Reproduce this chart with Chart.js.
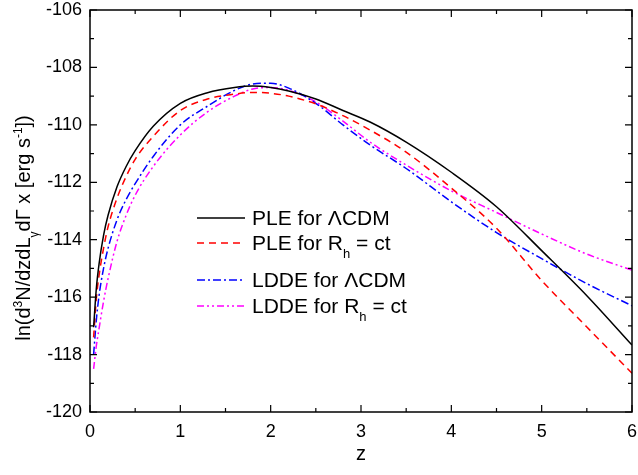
<!DOCTYPE html>
<html>
<head>
<meta charset="utf-8">
<script src="https://cdn.jsdelivr.net/npm/chart.js@4/dist/chart.umd.min.js"></script>
<style>
  body { margin: 0; background: #fff; }
  #wrap { width: 638px; height: 475px; position: relative; }
</style>
</head>
<body>
<div id="wrap"><canvas id="myChart"></canvas></div>
<script>
// redshift grid
const zVals = [0.04, 0.07, 0.1, 0.15, 0.2, 0.3, 0.4, 0.5, 0.7, 1.0, 1.3, 1.6, 1.8, 2.0, 2.2, 2.5, 2.8, 3.1, 3.5, 4.0, 4.5, 5.0, 5.5, 6.0];

const pleLcdm = [-117.05, -115.7, -114.85, -113.85, -113.15, -112.15, -111.45, -110.9, -110.05, -109.25, -108.88, -108.7, -108.65, -108.7, -108.82, -109.1, -109.5, -109.9, -110.6, -111.65, -112.85, -114.38, -115.95, -117.67];
const pleRh = [-117.4, -116.05, -115.25, -114.3, -113.55, -112.55, -111.8, -111.2, -110.4, -109.5, -109.1, -108.93, -108.87, -108.9, -109.0, -109.27, -109.68, -110.18, -110.95, -112.2, -113.6, -115.42, -117.04, -118.65];
const lddeLcdm = [-118.0, -116.8, -115.95, -115.0, -114.3, -113.3, -112.6, -112.05, -111.1, -110.0, -109.35, -108.8, -108.58, -108.55, -108.72, -109.25, -110.0, -110.7, -111.52, -112.68, -113.75, -114.66, -115.53, -116.3];
const lddeRh = [-118.5, -117.7, -117.1, -116.15, -115.35, -114.05, -113.15, -112.45, -111.45, -110.35, -109.55, -109.0, -108.75, -108.7, -108.8, -109.2, -109.87, -110.6, -111.4, -112.3, -113.05, -113.8, -114.5, -115.06];

const seriesNames = ['PLE for ΛCDM', 'PLE for R_{h} = ct', 'LDDE for ΛCDM', 'LDDE for R_{h} = ct'];
const xTitle = 'z';
const yTitle = 'ln(d^{3}N/dzdL_{γ}dΓ x [erg s^{-1}])';

const FONT = '"Liberation Sans", Arial, sans-serif';

function toPts(ys) {
  return zVals.map((z, i) => ({ x: z, y: ys[i] }));
}

// split "a^{b}c_{d}" into pieces
function parseRich(str) {
  const parts = [];
  const re = /(\^|_)\{([^}]*)\}/g;
  let last = 0, m;
  while ((m = re.exec(str)) !== null) {
    if (m.index > last) parts.push({ t: str.slice(last, m.index), k: 'n' });
    parts.push({ t: m[2], k: m[1] === '^' ? 'sup' : 'sub' });
    last = re.lastIndex;
  }
  if (last < str.length) parts.push({ t: str.slice(last), k: 'n' });
  return parts;
}

function richWidth(c, parts, size) {
  let w = 0;
  parts.forEach(p => {
    c.font = (p.k === 'n' ? size : Math.round(size * 0.62)) + 'px ' + FONT;
    w += c.measureText(p.t).width;
  });
  return w;
}

function drawRich(c, parts, x, y, size) {
  c.textBaseline = 'alphabetic';
  c.textAlign = 'left';
  parts.forEach(p => {
    let dy = 0;
    if (p.k === 'n') c.font = size + 'px ' + FONT;
    else {
      c.font = Math.round(size * 0.62) + 'px ' + FONT;
      dy = p.k === 'sup' ? -size * 0.42 : size * 0.38;
    }
    c.fillText(p.t, x, y + dy);
    x += c.measureText(p.t).width;
  });
}

const datasets = [
  { data: toPts(pleLcdm), borderColor: '#000000', borderDash: [] },
  { data: toPts(pleRh), borderColor: '#ff0000', borderDash: [7, 5] },
  { data: toPts(lddeLcdm), borderColor: '#0000ff', borderDash: [8, 3, 2, 3] },
  { data: toPts(lddeRh), borderColor: '#ff00ff', borderDash: [7, 3, 2, 3, 2, 3] }
].map((d, i) => Object.assign({
  label: seriesNames[i],
  borderWidth: 1.5,
  pointRadius: 0,
  fill: false,
  cubicInterpolationMode: 'monotone'
}, d));

const frame = {
  id: 'frame',
  afterDraw(chart) {
    const c = chart.ctx;
    const a = chart.chartArea;
    const xs = chart.scales.x, ys = chart.scales.y;
    c.save();
    c.strokeStyle = '#000';
    c.lineWidth = 1.5;
    c.strokeRect(a.left, a.top, a.right - a.left, a.bottom - a.top);
    c.lineWidth = 1.2;
    c.beginPath();
    for (let v = 0; v <= 6.001; v += 0.5) {
      const px = xs.getPixelForValue(v);
      const len = Math.abs(v - Math.round(v)) < 0.01 ? 7 : 4;
      c.moveTo(px, a.bottom); c.lineTo(px, a.bottom - len);
      c.moveTo(px, a.top); c.lineTo(px, a.top + len);
    }
    for (let v = -120; v <= -106; v += 1) {
      const py = ys.getPixelForValue(v);
      const len = v % 2 === 0 ? 7 : 4;
      c.moveTo(a.left, py); c.lineTo(a.left + len, py);
      c.moveTo(a.right, py); c.lineTo(a.right - len, py);
    }
    c.stroke();

    // axis titles
    c.fillStyle = '#000';
    c.font = '20px ' + FONT;
    c.textAlign = 'center';
    c.textBaseline = 'middle';
    c.fillText(xTitle, (a.left + a.right) / 2, 454);

    const yParts = parseRich(yTitle);
    const yw = richWidth(c, yParts, 20);
    c.save();
    c.translate(30, 228);
    c.rotate(-Math.PI / 2);
    drawRich(c, yParts, -yw / 2, 0, 20);
    c.restore();

    // legend
    const rows = [218, 243, 280, 306];
    chart.data.datasets.forEach((ds, i) => {
      const ly = rows[i];
      c.strokeStyle = ds.borderColor;
      c.lineWidth = 1.5;
      c.setLineDash(ds.borderDash);
      c.beginPath();
      c.moveTo(197, ly); c.lineTo(245, ly);
      c.stroke();
      c.setLineDash([]);
      c.fillStyle = '#000';
      drawRich(c, parseRich(ds.label), 252, ly + 7, 21);
    });
    c.restore();
  }
};

new Chart(document.getElementById('myChart'), {
  type: 'line',
  data: { datasets: datasets },
  options: {
    responsive: true,
    maintainAspectRatio: false,
    animation: false,
    layout: { padding: 0 },
    plugins: { legend: { display: false }, tooltip: { enabled: false } },
    scales: {
      x: {
        type: 'linear',
        min: 0,
        max: 6,
        grid: { display: false, drawTicks: false },
        border: { display: false },
        ticks: { stepSize: 1, padding: 9, color: '#000', font: { size: 18, family: FONT } },
        afterFit: s => { s.height = 63; s.paddingLeft = 0; s.paddingRight = 6; }
      },
      y: {
        min: -120,
        max: -106,
        grid: { display: false, drawTicks: false },
        border: { display: false },
        ticks: { stepSize: 2, padding: 8, color: '#000', font: { size: 18, family: FONT } },
        afterFit: s => { s.width = 90; s.paddingTop = 10; s.paddingBottom = 0; }
      }
    }
  },
  plugins: [frame]
});
</script>
</body>
</html>
